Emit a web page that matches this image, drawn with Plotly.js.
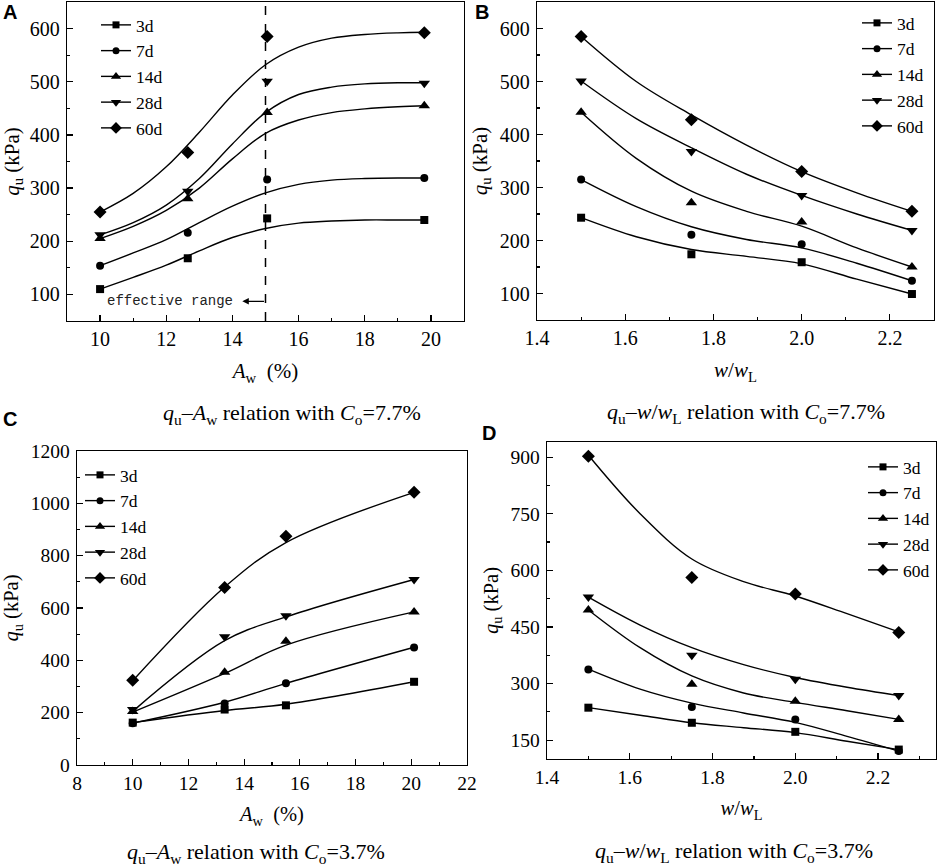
<!DOCTYPE html>
<html>
<head>
<meta charset="utf-8">
<script src="https://cdn.plot.ly/plotly-3.0.1.min.js"></script>
<style>
  body { margin: 0; background: #fff; }
  #chart { width: 941px; height: 866px; }
</style>
</head>
<body>
<div id="chart"></div>
<script>
// Series names and marker shapes
const ages = ["3d", "7d", "14d", "28d", "60d"];
const symbols = ["square", "circle", "triangle-up", "triangle-down", "diamond"];

// Panel A: qu vs Aw, Co = 7.7%
const aX = [10, 12.65, 15.05, 19.8];
const a3d = [110, 168, 243, 240];
const a7d = [154, 216, 316, 319];
const a14d = [205, 280, 442, 455];
const a28d = [212, 294, 501, 497];
const a60d = [255, 367, 585, 592];
// fitted curves
const aFitX = [10, 11, 12, 13, 14, 15, 16, 17, 18, 19, 19.85];
const aFit3d = [110, 132, 155, 182, 207, 224, 234, 238, 240, 240, 240];
const aFit7d = [154, 178, 203, 235, 266, 291, 307, 315, 318, 319, 319];
const aFit14d = [205, 228, 258, 300, 355, 403, 428, 442, 449, 453, 455];
const aFit28d = [212, 235, 268, 318, 383, 442, 476, 490, 496, 498, 498];
const aFit60d = [255, 290, 340, 405, 475, 532, 565, 582, 589, 592, 593];

// Panel B: qu vs w/wL, Co = 7.7%
const bX = [1.5, 1.75, 2.0, 2.25];
const b3d = [243, 174, 159, 99];
const b7d = [315, 211, 193, 124];
const b14d = [442, 271, 235, 150];
const b28d = [501, 368, 285, 219];
const b60d = [585, 428, 330, 255];
const bFitX = [1.5, 1.625, 1.75, 1.875, 2.0, 2.125, 2.25];
const bFit3d = [243, 207, 183, 170, 156, 127, 99];
const bFit7d = [315, 264, 226, 202, 186, 157, 124];
const bFit14d = [442, 355, 293, 255, 227, 186, 150];
const bFit28d = [501, 430, 375, 325, 285, 250, 219];
const bFit60d = [585, 500, 437, 380, 330, 290, 255];

// Panel C: qu vs Aw, Co = 3.7%
const cX = [10, 13.3, 15.5, 20.1];
const c3d = [162, 212, 228, 318];
const c7d = [160, 235, 312, 449];
const c14d = [204, 354, 473, 585];
const c28d = [212, 490, 570, 709];
const c60d = [324, 678, 874, 1042];
const cFitX = [10, 13.3, 15.5, 20.1];
const cFit3d = [162, 208, 232, 318];
const cFit7d = [160, 240, 312, 450];
const cFit14d = [202, 350, 458, 585];
const cFit28d = [205, 475, 566, 709];
const cFit60d = [322, 680, 850, 1042];

// Panel D: qu vs w/wL, Co = 3.7%
const dX = [1.5, 1.75, 2.0, 2.25];
const d3d = [236, 196, 172, 125];
const d7d = [337, 238, 205, 121];
const d14d = [495, 298, 253, 205];
const d28d = [529, 375, 311, 268];
const d60d = [902, 581, 537, 435];
const dFitX = [1.5, 1.625, 1.75, 1.875, 2.0, 2.125, 2.25];
const dFit3d = [236, 216, 196, 183, 170, 147, 125];
const dFit7d = [338, 285, 248, 222, 197, 160, 121];
const dFit14d = [495, 395, 320, 275, 250, 228, 205];
const dFit28d = [529, 455, 395, 350, 316, 290, 268];
const dFit60d = [905, 750, 630, 570, 532, 485, 437];

const W = 941, H = 866;
const serif = "Liberation Serif";

// pixel box -> paper domain
let dom = function(l, r, t, b) {
  return { x: [l / W, r / W], y: [1 - b / H, 1 - t / H] };
};

let data = [];

let addPanel = function(n, x, series, fitX, fits, legendName) {
  let xa = n == 1 ? "x" : "x" + n;
  let ya = n == 1 ? "y" : "y" + n;
  series.map((vals, i) => {
    // fitted curve
    data.push({
      x: fitX, y: fits[i], xaxis: xa, yaxis: ya,
      mode: "lines", type: "scatter", showlegend: false,
      line: { color: "#000", width: 1.4, shape: "spline", smoothing: 1 },
      hoverinfo: "skip"
    });
    // measured points
    data.push({
      x: x, y: vals, xaxis: xa, yaxis: ya,
      mode: "markers", type: "scatter", showlegend: false, name: ages[i],
      marker: { symbol: symbols[i], color: "#000", size: i < 2 ? 8 : 10 }
    });
    // legend entry
    data.push({
      x: [null], y: [null], xaxis: xa, yaxis: ya,
      mode: "lines+markers", type: "scatter", name: ages[i], legend: legendName,
      line: { color: "#000", width: 1.4 },
      marker: { symbol: symbols[i], color: "#000", size: i < 2 ? 7 : 9 }
    });
  });
};

addPanel(1, aX, [a3d, a7d, a14d, a28d, a60d], aFitX,
  [aFit3d, aFit7d, aFit14d, aFit28d, aFit60d], "legend");
addPanel(2, bX, [b3d, b7d, b14d, b28d, b60d], bFitX,
  [bFit3d, bFit7d, bFit14d, bFit28d, bFit60d], "legend2");
addPanel(3, cX, [c3d, c7d, c14d, c28d, c60d], cFitX,
  [cFit3d, cFit7d, cFit14d, cFit28d, cFit60d], "legend3");
addPanel(4, dX, [d3d, d7d, d14d, d28d, d60d], dFitX,
  [dFit3d, dFit7d, dFit14d, dFit28d, dFit60d], "legend4");

let dA = dom(67, 464, 2, 321);
let dB = dom(537, 934, 2, 320);
let dC = dom(77, 467, 451, 765);
let dD = dom(547, 936, 442, 759);

let axisBase = function(fs) {
  return {
    showline: true, linecolor: "#000", linewidth: 1.3, mirror: true,
    ticks: "inside", ticklen: 6, tickwidth: 1.2, tickcolor: "#000",
    showgrid: false, zeroline: false,
    tickfont: { family: serif, size: fs, color: "#000" },
    minor: { ticks: "inside", ticklen: 3, tickwidth: 1.2, tickcolor: "#000" }
  };
};

let xAx = function(d, range, dtick, minor, fmt, title, fs, anchor) {
  let a = axisBase(fs);
  a.domain = d.x; a.range = range; a.dtick = dtick; a.tick0 = 0;
  a.minor.dtick = minor; a.anchor = anchor; a.tickformat = fmt;
  a.ticklabelstandoff = 0;
  a.title = { text: title, font: { family: serif, size: fs + 1, color: "#000" }, standoff: 14 };
  return a;
};

let yAx = function(d, range, dtick, minor, fs, anchor) {
  let a = axisBase(fs);
  a.domain = d.y; a.range = range; a.dtick = dtick; a.tick0 = 0;
  a.minor.dtick = minor; a.anchor = anchor;
  a.ticklabelstandoff = 2;
  a.title = { text: "<i>q</i><sub>u</sub> (kPa)", font: { family: serif, size: fs + 1, color: "#000" }, standoff: 6 };
  return a;
};

let legendAt = function(px, py) {
  return {
    x: px / W, y: 1 - py / H, xanchor: "left", yanchor: "top",
    bgcolor: "rgba(0,0,0,0)", borderwidth: 0, itemwidth: 30,
    font: { family: serif, size: 17.5, color: "#000" },
    tracegroupgap: 0
  };
};

let caption = function(px, py, text) {
  return {
    xref: "paper", yref: "paper", x: px / W, y: 1 - py / H,
    xanchor: "center", yanchor: "middle", showarrow: false, text: text,
    font: { family: serif, size: 22, color: "#000" }
  };
};

let letter = function(px, py, text) {
  return {
    xref: "paper", yref: "paper", x: px / W, y: 1 - py / H,
    xanchor: "center", yanchor: "middle", showarrow: false, text: "<b>" + text + "</b>",
    font: { family: "Liberation Sans", size: 20, color: "#000" }
  };
};

let layout = {
  width: W, height: H,
  margin: { l: 0, r: 0, t: 0, b: 0 },
  paper_bgcolor: "#fff", plot_bgcolor: "#fff",
  showlegend: true,
  xaxis: xAx(dA, [9, 21], 2, 1, "d", "<i>A</i><sub>w</sub>  (%)", 20, "y"),
  yaxis: yAx(dA, [50, 650], 100, 50, 20, "x"),
  xaxis2: xAx(dB, [1.4, 2.3], 0.2, 0.1, ".1f", "<i>w</i>/<i>w</i><sub>L</sub>", 20, "y2"),
  yaxis2: yAx(dB, [50, 650], 100, 50, 20, "x2"),
  xaxis3: xAx(dC, [8, 22], 2, 1, "d", "<i>A</i><sub>w</sub>  (%)", 19.5, "y3"),
  yaxis3: yAx(dC, [0, 1200], 200, 100, 19.5, "x3"),
  xaxis4: xAx(dD, [1.4, 2.34], 0.2, 0.1, ".1f", "<i>w</i>/<i>w</i><sub>L</sub>", 19.5, "y4"),
  yaxis4: yAx(dD, [100, 940], 150, 75, 19.5, "x4"),
  legend: legendAt(96, 7),
  legend2: legendAt(857, 5),
  legend3: legendAt(80, 457),
  legend4: legendAt(863, 449),
  shapes: [
    // effective range boundary
    { type: "line", xref: "x", yref: "y domain", x0: 15, x1: 15, y0: 0, y1: 1,
      line: { color: "#000", width: 1.5, dash: "dash" } }
  ],
  annotations: [
    { xref: "x", yref: "y", x: 12.1, y: 87, text: "effective range", showarrow: false,
      font: { family: "Liberation Mono", size: 14, color: "#222" } },
    { xref: "x", yref: "y", x: 14.3, y: 87, ax: 15, ay: 87, axref: "x", ayref: "y",
      text: "", showarrow: true, arrowhead: 2, arrowsize: 1, arrowwidth: 1.3, arrowcolor: "#000" },
    caption(292, 414, "<i>q</i><sub>u</sub>–<i>A</i><sub>w</sub> relation with <i>C</i><sub>o</sub>=7.7%"),
    caption(746, 413, "<i>q</i><sub>u</sub>–<i>w</i>/<i>w</i><sub>L</sub> relation with <i>C</i><sub>o</sub>=7.7%"),
    caption(256, 853, "<i>q</i><sub>u</sub>–<i>A</i><sub>w</sub> relation with <i>C</i><sub>o</sub>=3.7%"),
    caption(734, 852, "<i>q</i><sub>u</sub>–<i>w</i>/<i>w</i><sub>L</sub> relation with <i>C</i><sub>o</sub>=3.7%"),
    letter(10, 12, "A"),
    letter(482, 12, "B"),
    letter(10, 419, "C"),
    letter(489, 433, "D")
  ]
};

Plotly.newPlot("chart", data, layout, { displayModeBar: false, staticPlot: true });
</script>
</body>
</html>
